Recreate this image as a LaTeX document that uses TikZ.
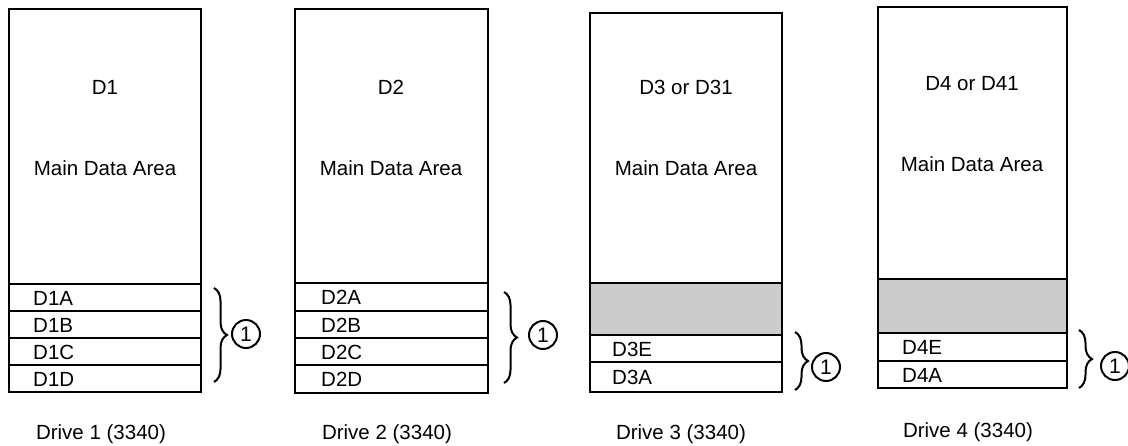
\documentclass[tikz,border=0pt]{standalone}
\usepackage{fontspec}
\setmainfont{Liberation Sans}
\usetikzlibrary{decorations.pathreplacing}
\begin{document}
\begin{tikzpicture}[x=1pt,y=-1pt,
  every node/.style={inner sep=0pt,font=\fontsize{20.5}{24}\selectfont},
  area/.style={draw=black,line width=2.4pt,fill=white},
  shade/.style={draw=black,line width=2.4pt,fill=black!20},
  rowtxt/.style={anchor=west},
  brc/.style={decorate,decoration={brace,amplitude=13pt},line width=2pt},
  num/.style={draw,circle,line width=2pt,minimum size=28pt,font=\fontsize{21}{24}\selectfont}]
\useasboundingbox (0,0) rectangle (1128,445);
% ---------- Drive 1
\draw[area] (9,9) rectangle (201,284);
\draw[area] (9,284) rectangle (201,311);
\draw[area] (9,311) rectangle (201,338);
\draw[area] (9,338) rectangle (201,365);
\draw[area] (9,365) rectangle (201,392);
\node (h1) at (105,87) {D1};
\node (m1) at (105,168) {Main Data Area};
\node[rowtxt] (r1a) at (33,298) {D1A};
\node[rowtxt] (r1b) at (33,325) {D1B};
\node[rowtxt] (r1c) at (33,352) {D1C};
\node[rowtxt] (r1d) at (33,379) {D1D};
\coordinate (b1t) at (214,288);
\coordinate (b1b) at (214,382);
\draw[brc] (b1t) -- (b1b);
\node[num] (c1) at (246,334) {1};
\node (l1) at (101,434) {Drive 1 (3340)};
% ---------- Drive 2
\draw[area] (295,9) rectangle (488,283);
\draw[area] (295,283) rectangle (488,311);
\draw[area] (295,311) rectangle (488,338);
\draw[area] (295,338) rectangle (488,365);
\draw[area] (295,365) rectangle (488,393);
\node (h2) at (391,87) {D2};
\node (m2) at (391,168) {Main Data Area};
\node[rowtxt] (r2a) at (321,297) {D2A};
\node[rowtxt] (r2b) at (321,325) {D2B};
\node[rowtxt] (r2c) at (321,352) {D2C};
\node[rowtxt] (r2d) at (321,379) {D2D};
\coordinate (b2t) at (504,292);
\coordinate (b2b) at (504,383);
\draw[brc] (b2t) -- (b2b);
\node[num] (c2) at (543,335) {1};
\node (l2) at (387,434) {Drive 2 (3340)};
% ---------- Drive 3
\draw[area] (590,13) rectangle (782,283);
\draw[shade] (590,283) rectangle (782,335);
\draw[area] (590,335) rectangle (782,362);
\draw[area] (590,362) rectangle (782,392);
\node (h3) at (686,87) {D3 or D31};
\node (m3) at (686,168) {Main Data Area};
\node[rowtxt] (r3e) at (612,349) {D3E};
\node[rowtxt] (r3a) at (612,377) {D3A};
\coordinate (b3t) at (795,332);
\coordinate (b3b) at (795,390);
\draw[brc] (b3t) -- (b3b);
\node[num] (c3) at (826,367) {1};
\node (l3) at (681,434) {Drive 3 (3340)};
% ---------- Drive 4
\draw[area] (878,7) rectangle (1067,279);
\draw[shade] (878,279) rectangle (1067,333);
\draw[area] (878,333) rectangle (1067,361);
\draw[area] (878,361) rectangle (1067,388);
\node (h4) at (972,84) {D4 or D41};
\node (m4) at (972,164) {Main Data Area};
\node[rowtxt] (r4e) at (902,347) {D4E};
\node[rowtxt] (r4a) at (902,375) {D4A};
\coordinate (b4t) at (1079,330);
\coordinate (b4b) at (1079,388);
\draw[brc] (b4t) -- (b4b);
\node[num] (c4) at (1115,366) {1};
\node (l4) at (968,432) {Drive 4 (3340)};
\end{tikzpicture}
\end{document}
